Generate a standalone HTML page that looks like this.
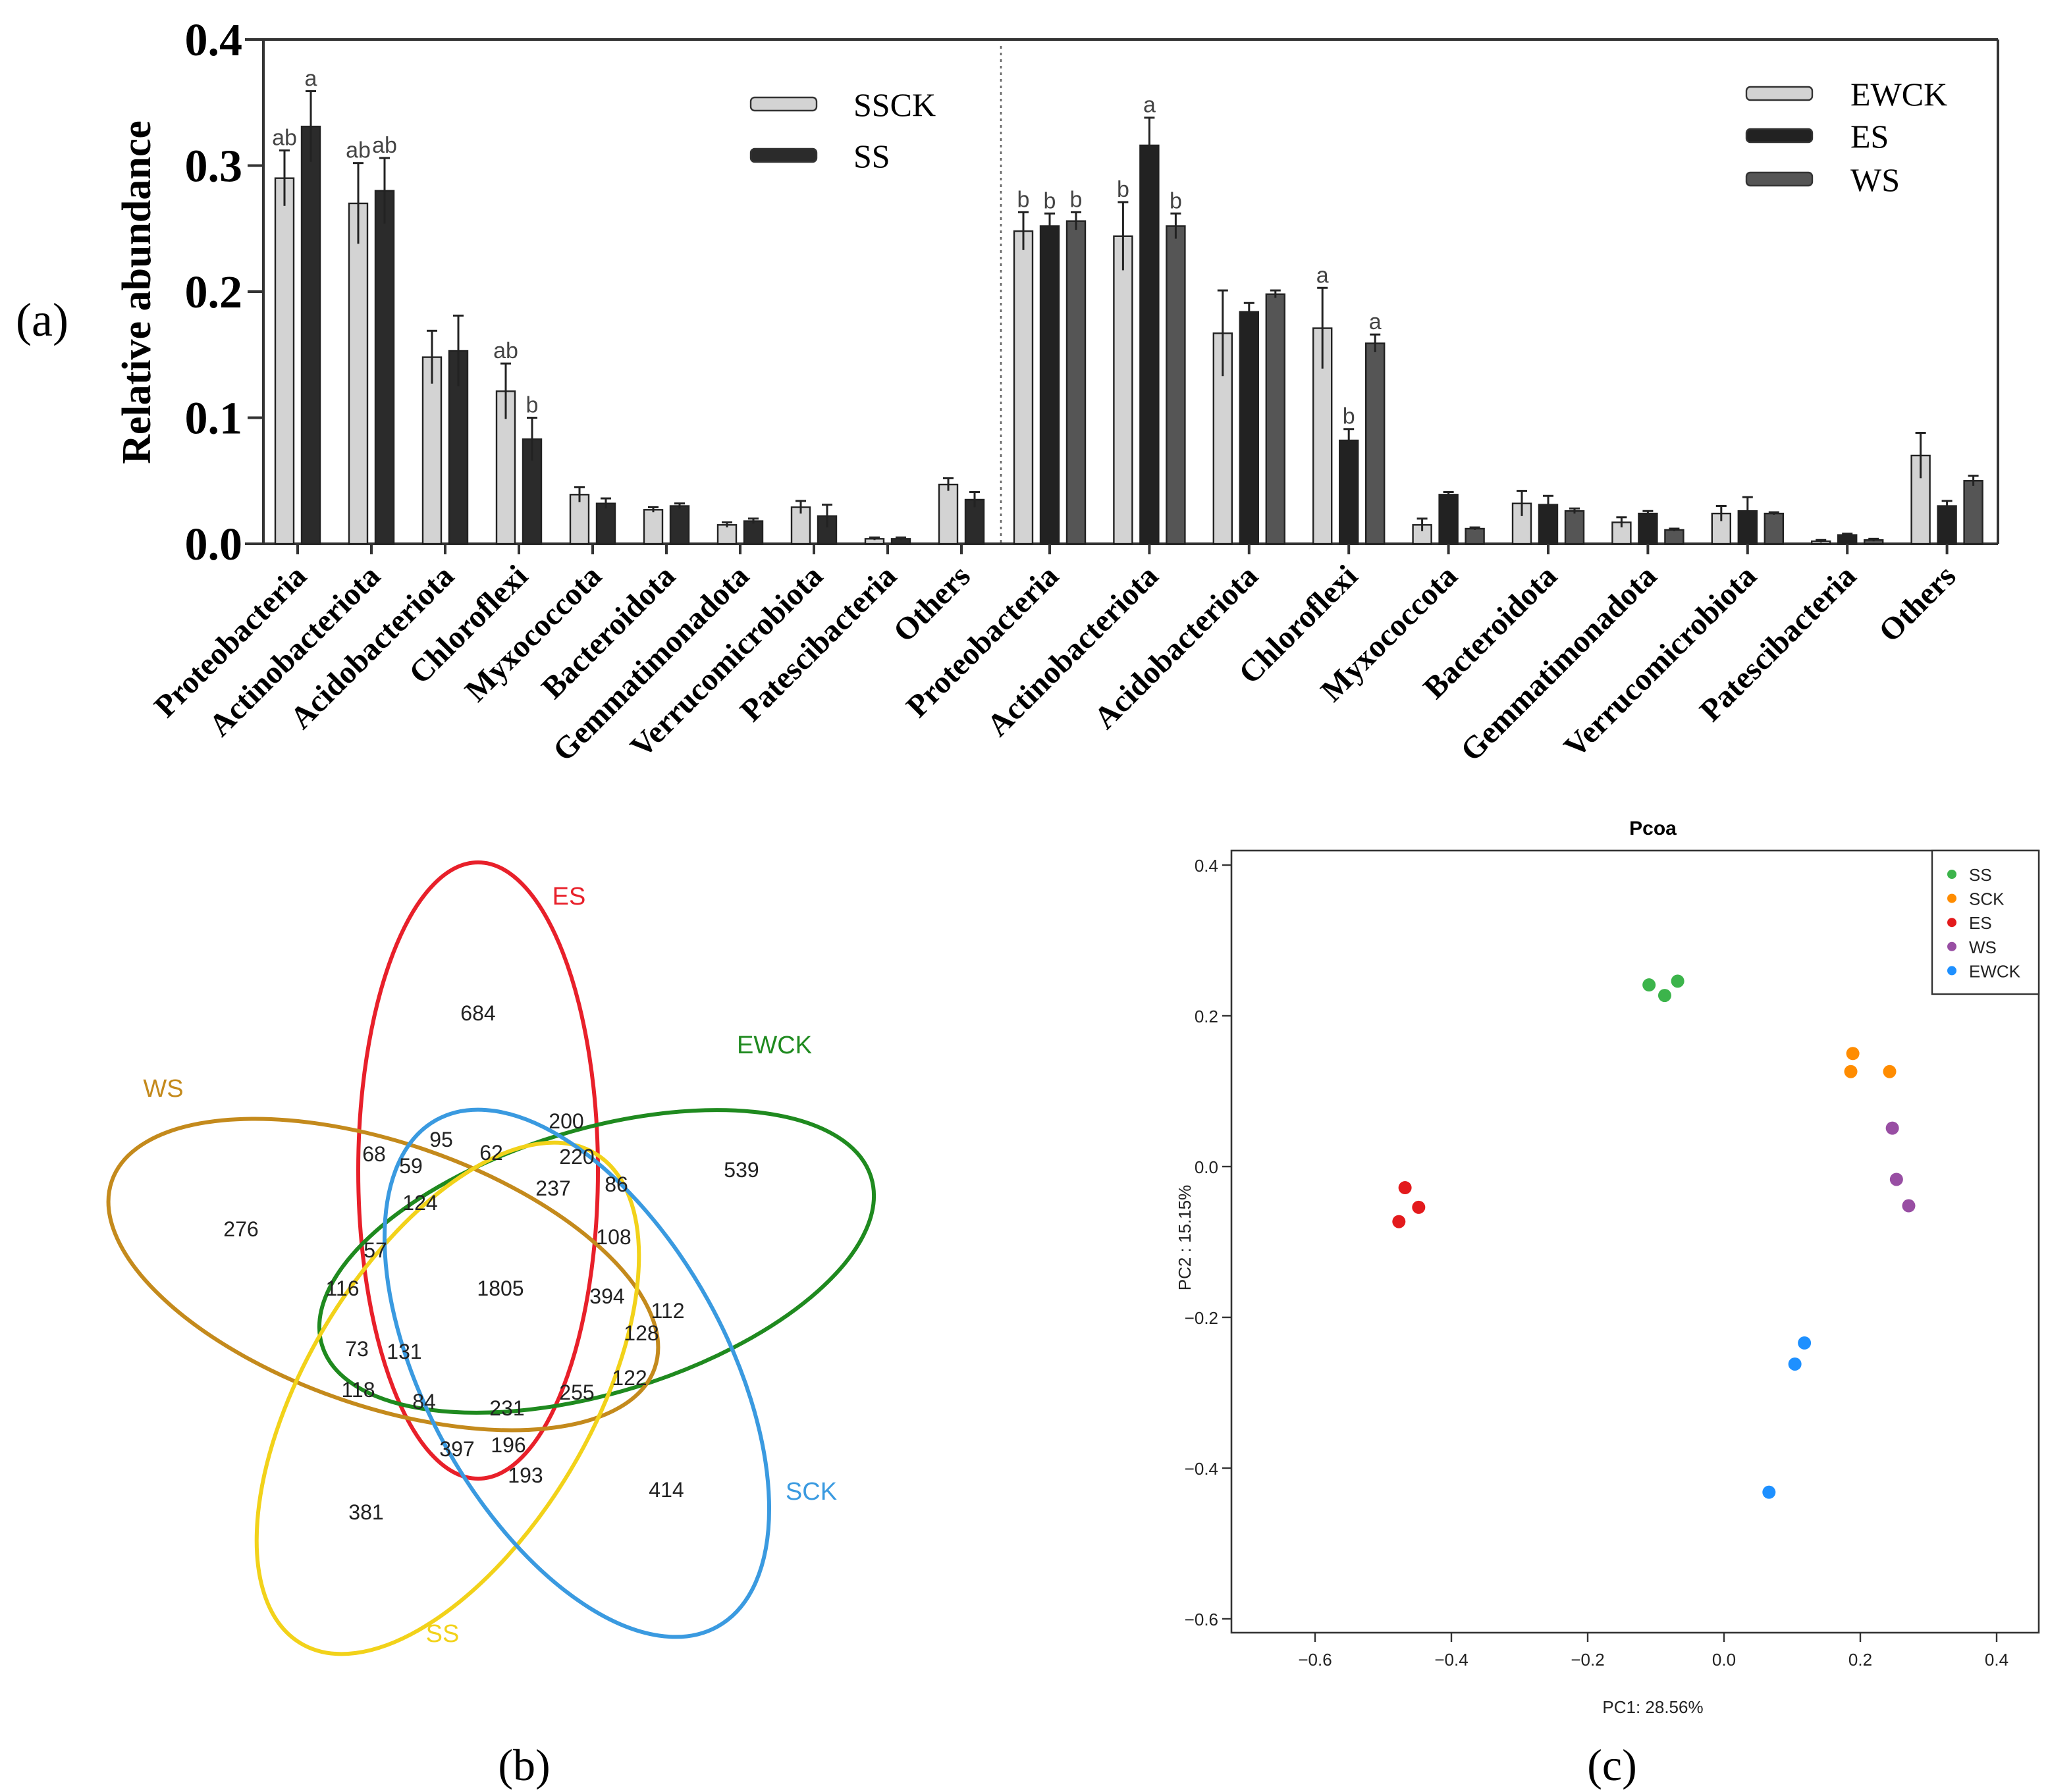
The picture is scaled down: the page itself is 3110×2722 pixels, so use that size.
<!DOCTYPE html>
<html><head><meta charset="utf-8"><style>
html,body{margin:0;padding:0;background:#fff;}
svg{display:block;}
.ser{font-family:"Liberation Serif",serif;}
.san{font-family:"Liberation Sans",sans-serif;}
</style></head>
<body>
<svg id="fig" width="3110" height="2722" viewBox="0 0 1555 1361" xmlns="http://www.w3.org/2000/svg">
<rect width="1555" height="1361" fill="#fff"/>
<g id="barA"></g>
<g id="venn"></g>
<g id="pcoa"></g>
<text x="32" y="255" class="ser" font-size="36" text-anchor="middle">(a)</text>
<text x="398" y="1352" class="ser" font-size="34" text-anchor="middle">(b)</text>
<text x="1224" y="1352" class="ser" font-size="34" text-anchor="middle">(c)</text>
</svg>
<script>
// ---- Panel (a) data ----
const phyla = ["Proteobacteria","Actinobacteriota","Acidobacteriota","Chloroflexi","Myxococcota","Bacteroidota","Gemmatimonadota","Verrucomicrobiota","Patescibacteria","Others"];
const sscK = [0.290,0.270,0.148,0.121,0.039,0.027,0.015,0.029,0.004,0.047];
const sscKErr = [0.022,0.032,0.021,0.022,0.006,0.002,0.002,0.005,0.001,0.005];
const ss = [0.331,0.280,0.153,0.083,0.032,0.030,0.018,0.022,0.004,0.035];
const ssErr = [0.028,0.026,0.028,0.017,0.004,0.002,0.002,0.009,0.001,0.006];
const ewck = [0.248,0.244,0.167,0.171,0.015,0.032,0.017,0.024,0.002,0.070];
const ewckErr = [0.015,0.027,0.034,0.032,0.005,0.010,0.004,0.006,0.001,0.018];
const es = [0.252,0.316,0.184,0.082,0.039,0.031,0.024,0.026,0.007,0.030];
const esErr = [0.010,0.022,0.007,0.009,0.002,0.007,0.002,0.011,0.001,0.004];
const ws = [0.256,0.252,0.198,0.159,0.012,0.026,0.011,0.024,0.003,0.050];
const wsErr = [0.007,0.010,0.003,0.007,0.001,0.002,0.001,0.001,0.001,0.004];
const sscKLetters = ["ab","ab","","ab","","","","","",""];
const ssLetters = ["a","ab","","b","","","","","",""];
const ewckLetters = ["b","b","","a","","","","","",""];
const esLetters = ["b","a","","b","","","","","",""];
const wsLetters = ["b","b","","a","","","","","",""];
const yTicksA = [0,0.1,0.2,0.3,0.4];
// ---- Panel (b) data ----
const vennNums = ["684","200","95","62","220","68","59","237","86","539","124","108","276","57","1805","116","394","112","128","73","131","122","118","84","231","255","397","196","193","414","381"];
// ---- Panel (c) data ----
const pcoaGroups = ["SS","SCK","ES","WS","EWCK"];
const pcoaColors = ["#3cb44b","#ff8c00","#e31a1c","#984ea3","#1e90ff"];
const pcoaX = [[-0.110,-0.087,-0.068],[0.189,0.186,0.243],[-0.468,-0.448,-0.477],[0.247,0.253,0.271],[0.118,0.104,0.066]];
const pcoaY = [[0.241,0.227,0.246],[0.150,0.126,0.126],[-0.028,-0.054,-0.073],[0.051,-0.017,-0.052],[-0.234,-0.262,-0.432]];
const xTicksC = [-0.6,-0.4,-0.2,0.0,0.2,0.4];
const yTicksC = [0.4,0.2,0.0,-0.2,-0.4,-0.6];

const NS="http://www.w3.org/2000/svg";
function mk(tag, attrs, parent, txt){const e=document.createElementNS(NS,tag);for(const k in attrs)e.setAttribute(k,attrs[k]);if(txt!==undefined)e.textContent=txt;parent.appendChild(e);return e;}

// ===== Panel A =====
(function(){
const g=document.getElementById('barA');
const y0=413, y1=30, X0=200, X1=1517;
const ys=v=>y0-(v/0.4)*(y0-y1);
let e=mk('line',{x1:X0,y1:y1,x2:X0,y2:y0,stroke:'#333','stroke-width':2},g);

e=mk('line',{x1:X0-14,y1:y0,x2:X1,y2:y0,stroke:'#333','stroke-width':2},g);

mk('line',{x1:X0-14,y1:y1,x2:X1,y2:y1,stroke:'#333','stroke-width':2},g);
mk('line',{x1:X1,y1:y1,x2:X1,y2:y0,stroke:'#333','stroke-width':2},g);
e=mk('line',{x1:760,y1:y1+5,x2:760,y2:y0,stroke:'#666','stroke-width':1.3,'stroke-dasharray':'2,3'},g);

yTicksA.forEach(t=>{const y=ys(t);mk('line',{x1:X0-12,y1:y,x2:X0,y2:y,stroke:'#333','stroke-width':2},g);
 const tx=mk('text',{x:X0-16,y:y+12,'text-anchor':'end','font-size':35,'font-weight':'bold',class:'ser'},g,t.toFixed(1));
 });
e=mk('text',{x:0,y:0,transform:'translate(114,222) rotate(-90)','text-anchor':'middle','font-size':31,'font-weight':'bold',class:'ser'},g,'Relative abundance');

function bar(cx,v,err,fill,letter,nm){
 const w=14;const r=mk('rect',{x:cx-w/2,y:ys(v),width:w,height:y0-ys(v),fill:fill,stroke:'#222','stroke-width':1.2},g);
 
 const ye=ys(v+err);mk('line',{x1:cx,y1:ys(Math.max(0,v-err)),x2:cx,y2:ye,stroke:'#222','stroke-width':1.5},g);
 mk('line',{x1:cx-4,y1:ye,x2:cx+4,y2:ye,stroke:'#222','stroke-width':1.5},g);
 if(letter){const t=mk('text',{x:cx,y:ye-4,'text-anchor':'middle','font-size':17,fill:'#444',class:'san'},g,letter);
  }
}
function lab(cx,name){
 mk('line',{x1:cx,y1:y0,x2:cx,y2:y0+8,stroke:'#333','stroke-width':2},g);
 const t=mk('text',{x:0,y:0,transform:`translate(${cx+8},${y0+26}) rotate(-45)`,'text-anchor':'end','font-size':24,'font-weight':'bold',class:'ser'},g,name);
 
}
phyla.forEach((p,i)=>{const cx=226+56*i;
 bar(cx-10,sscK[i],sscKErr[i],'#d3d3d3',sscKLetters[i],'bar-sscK-'+i);
 bar(cx+10,ss[i],ssErr[i],'#2b2b2b',ssLetters[i],'bar-ss-'+i);
 lab(cx,p);});
phyla.forEach((p,i)=>{const cx=797+75.7*i;
 bar(cx-20,ewck[i],ewckErr[i],'#d3d3d3',ewckLetters[i],'bar-ewck-'+i);
 bar(cx,es[i],esErr[i],'#222','' ,'bar-es-'+i);
 bar(cx+20,ws[i],wsErr[i],'#555',wsLetters[i],'bar-ws-'+i);
 if(esLetters[i]){const ye=ys(es[i]+esErr[i]);const t=mk('text',{x:cx,y:ye-4,'text-anchor':'middle','font-size':17,fill:'#444',class:'san'},g,esLetters[i]);}
 lab(cx,p);});
function leg(x,y,fill,name,tx){
 const r=mk('rect',{x:x,y:y,width:50,height:10,rx:3,fill:fill,stroke:'#333','stroke-width':1.2},g);
 
 const t=mk('text',{x:tx,y:y+14,'font-size':25,class:'ser'},g,name);
 
}
leg(570,74,'#d3d3d3','SSCK',648);leg(570,113,'#2b2b2b','SS',648);
leg(1326,66,'#d3d3d3','EWCK',1405);leg(1326,98,'#222','ES',1405);leg(1326,131,'#555','WS',1405);
})();

// ===== Panel B =====
(function(){
const g=document.getElementById('venn');
const ells=[
 {n:'ES',c:'#e8202a',cx:363,cy:889,rx:91,ry:234,rot:0,lx:432,ly:687},
 {n:'EWCK',c:'#1f8a1f',cx:453,cy:958,rx:218,ry:100,rot:-17,lx:588,ly:800},
 {n:'WS',c:'#c48a1c',cx:291,cy:968,rx:218,ry:100,rot:19,lx:124,ly:833},
 {n:'SS',c:'#f2d21a',cx:340,cy:1062,rx:108,ry:217,rot:31,lx:336,ly:1247},
 {n:'SCK',c:'#3a9ae0',cx:438,cy:1043,rx:114,ry:220,rot:-29,lx:616,ly:1139}];
ells.forEach(o=>{
 const e=mk('ellipse',{cx:o.cx,cy:o.cy,rx:o.rx,ry:o.ry,transform:`rotate(${o.rot} ${o.cx} ${o.cy})`,fill:'none',stroke:o.c,'stroke-width':3},g);
 
 const t=mk('text',{x:o.lx,y:o.ly,'text-anchor':'middle','font-size':19,fill:o.c,class:'san'},g,o.n);
 
});
const pos=[[363,770],[430,852],[335,866],[373,876],[438,879],[284,877],[312,886],[420,903],[468,900],[563,889],[319,914],[466,940],[183,934],[285,950],[380,979],[260,979],[461,985],[507,996],[487,1013],[271,1025],[307,1027],[478,1047],[272,1056],[322,1065],[385,1070],[438,1058],[347,1101],[386,1098],[399,1121],[506,1132],[278,1149]];
vennNums.forEach((v,i)=>{const t=mk('text',{x:pos[i][0],y:pos[i][1]+5,'text-anchor':'middle','font-size':16,fill:'#222',class:'san'},g,v);
 });
})();

// ===== Panel C =====
(function(){
const g=document.getElementById('pcoa');
const L=935,R=1548,T=646,B=1240;
const xs=v=>1309+v*517.5, ys=v=>886-v*572.5;
let e=mk('rect',{x:L,y:T,width:R-L,height:B-T,fill:'none',stroke:'#333','stroke-width':1.3},g);

e=mk('text',{x:1255,y:634,'text-anchor':'middle','font-size':15,'font-weight':'bold',class:'san'},g,'Pcoa');

xTicksC.forEach(t=>{const x=xs(t);mk('line',{x1:x,y1:B,x2:x,y2:B+7,stroke:'#333','stroke-width':1.2},g);
 const tx=mk('text',{x:x,y:B+25,'text-anchor':'middle','font-size':13,fill:'#222',class:'san'},g,(t<0?'\u2212':'')+Math.abs(t).toFixed(1));
 });
yTicksC.forEach(t=>{const y=ys(t);mk('line',{x1:L-7,y1:y,x2:L,y2:y,stroke:'#333','stroke-width':1.2},g);
 const tx=mk('text',{x:L-10,y:y+5,'text-anchor':'end','font-size':13,fill:'#222',class:'san'},g,(t<0?'\u2212':'')+Math.abs(t).toFixed(1));
 });
e=mk('text',{x:1255,y:1301,'text-anchor':'middle','font-size':13,fill:'#222',class:'san'},g,'PC1: 28.56%');

e=mk('text',{x:0,y:0,transform:'translate(904,940) rotate(-90)','text-anchor':'middle','font-size':13,fill:'#222',class:'san'},g,'PC2 : 15.15%');

pcoaGroups.forEach((n,gi)=>{pcoaX[gi].forEach((xv,j)=>{
 const c=mk('circle',{cx:xs(xv),cy:ys(pcoaY[gi][j]),r:5,fill:pcoaColors[gi]},g);
 });});
e=mk('rect',{x:1467,y:646,width:81,height:109,fill:'#fff',stroke:'#333','stroke-width':1.2},g);

pcoaGroups.forEach((n,gi)=>{const y=664+gi*18.3;
 mk('circle',{cx:1482,cy:y,r:3.5,fill:pcoaColors[gi]},g);
 const t=mk('text',{x:1495,y:y+5,'font-size':13,fill:'#222',class:'san'},g,n);
 });
})();
</script>
</body></html>
